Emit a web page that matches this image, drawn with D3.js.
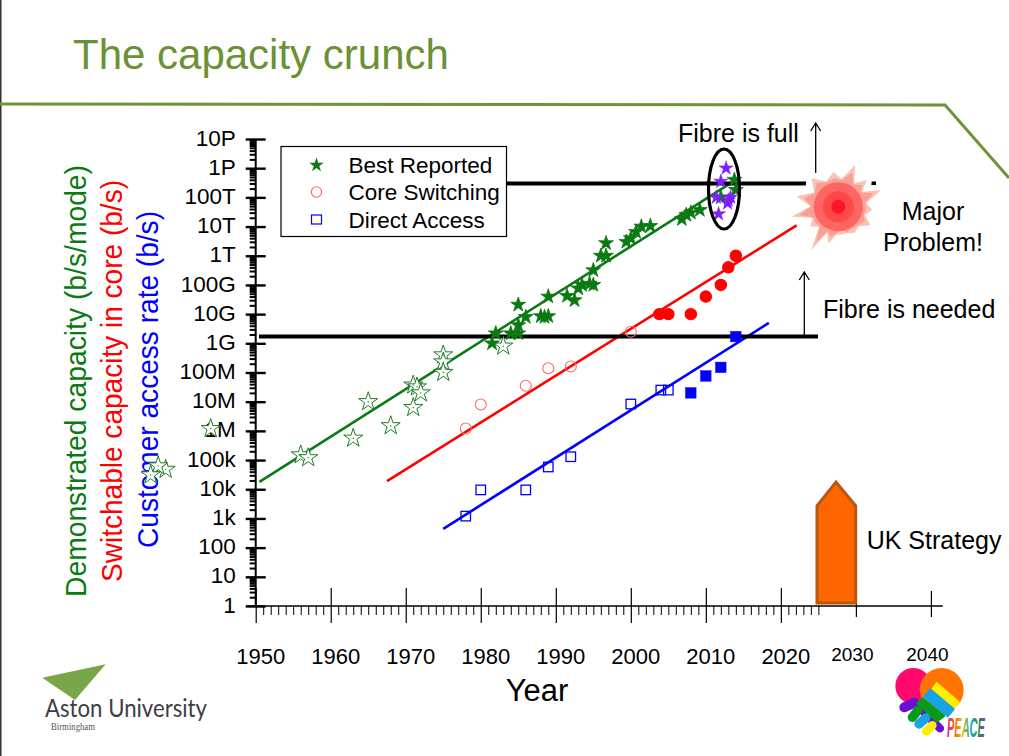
<!DOCTYPE html>
<html>
<head>
<meta charset="utf-8">
<script src="https://cdn.jsdelivr.net/npm/d3@7"></script>
<style>
  html, body { margin: 0; padding: 0; background: #fff; }
  svg { display: block; }
  text { font-family: "Liberation Sans", Arial, sans-serif; fill: #000; }
</style>
</head>
<body>
<div id="chart"></div>
<script>
// chart values
var bestOpenYears = [1956, 1957, 1963, 1965, 1968, 1971, 1971, 1971.5, 1972, 1975, 1975, 1975, 1983, 1944, 1938, 1937, 1936];
var bestOpenRates = [1.5e5, 1.2e5, 5.6e5, 1e7, 1.5e6, 3.7e7, 6.3e6, 3.2e7, 2e7, 4e8, 2.3e8, 1e8, 8e8, 1.2e6, 4.8e4, 6.3e4, 3.1e4];
var bestFullYears = [1981.5, 1982, 1984, 1985, 1985, 1986, 1985, 1989, 1988, 1989, 1988.5, 1991.5, 1992.5, 1993, 1993.5, 1994.5, 1995, 1995, 1996, 1996.7, 1996.7, 1999.4, 2000, 2000.7, 2001.4, 2002.6, 2006.8, 2007.4, 2008, 2009.2, 2012, 2013.8, 2014];
var bestFullRates = [1e9, 2.2e9, 2.2e9, 2.2e9, 4.2e9, 8e9, 2.1e10, 4e10, 8.5e9, 8.5e9, 8e9, 4.2e10, 3e10, 7.6e10, 1e11, 1.1e11, 1e11, 3.2e11, 1e12, 1e12, 2.7e12, 3e12, 4e12, 6.6e12, 1e13, 1.05e13, 1.8e13, 2.5e13, 3e13, 3.7e13, 1e14, 4e14, 1.8e14];
var purpleYears = [2012.7, 2012, 2011.4, 2013, 2013.3, 2012.9, 2011.7];
var purpleRates = [1e15, 3.5e14, 1e14, 8e13, 1e14, 6.3e13, 2.7e13];
var coreOpenYears = [1978, 1980, 1986, 1989, 1992, 2000];
var coreOpenRates = [1.2e6, 8e6, 3.5e7, 1.4e8, 1.6e8, 2.5e9];
var coreFullYears = [2003.8, 2005, 2008, 2010, 2012, 2013, 2014];
var coreFullRates = [1e10, 1e10, 1e10, 4e10, 1e11, 4e11, 1e12];
var accessOpenYears = [1978, 1980, 1986, 1989, 1992, 2000, 2004, 2005];
var accessOpenRates = [1.2e3, 9.5e3, 9.5e3, 5.8e4, 1.3e5, 8.3e6, 2.5e7, 2.5e7];
var accessFullYears = [2008, 2010, 2012, 2014];
var accessFullRates = [2e7, 7.6e7, 1.5e8, 1.7e9];
var bestTrendYears = [1950.5, 2014];
var bestTrendRates = [1.8e4, 4e14];
var coreTrendYears = [1967.5, 2022.1];
var coreTrendRates = [1.9e4, 1.1e13];
var accessTrendYears = [1975, 2018.4];
var accessTrendRates = [4.4e2, 5e9];
var capacityLimit = 3e14;
var neededLevel = 1.7e9;
var yTicks = [1, 10, 100, 1e3, 1e4, 1e5, 1e6, 1e7, 1e8, 1e9, 1e10, 1e11, 1e12, 1e13, 1e14, 1e15, 1e16];
var yLabels = ["1", "10", "100", "1k", "10k", "100k", "1M", "10M", "100M", "1G", "10G", "100G", "1T", "10T", "100T", "1P", "10P"];
var xYears = [1950, 1960, 1970, 1980, 1990, 2000, 2010, 2020];
var xLaterYears = [2030, 2040];
var legendNames = ["Best Reported", "Core Switching", "Direct Access"];
var burstAngles = [22, 47, 69, 95, 120, 148, 173, 195, 212, 235, 258, 284, 317, 352];
var burstReach = [45, 39, 46, 34, 37, 31, 28, 38, 51, 34, 48, 43, 39, 35];

var green = "#0a7a12", red = "#ff0000", blue = "#0000ff";

var svg = d3.select("#chart").append("svg").attr("width", 1009).attr("height", 756);

var x = d3.scaleLinear().domain([1950, 2040]).range([255.7, 930.9]);
var y = d3.scaleLog().domain([1, 1e16]).range([606, 139]);

// slide frame
svg.append("line").attr("x1", 0.5).attr("x2", 0.5).attr("y1", 0).attr("y2", 756).attr("stroke", "#333").attr("stroke-width", 2);
svg.append("path").attr("d", "M0,104 L945,105 L1009,178").attr("fill", "none").attr("stroke", "#6f9337").attr("stroke-width", 3);
svg.append("text").attr("x", 73).attr("y", 69).style("font-size", "42px").style("fill", "#6b9135").text("The capacity crunch");

// rotated axis titles
function sideTitle(label, color, px, pyBottom, len) {
  svg.append("text")
    .attr("transform", "translate(" + px + "," + pyBottom + ") rotate(-90)")
    .attr("textLength", len).attr("lengthAdjust", "spacingAndGlyphs")
    .style("font-size", "30px").style("fill", color).text(label);
}
sideTitle("Demonstrated capacity (b/s/mode)", green, 86, 597, 432);
sideTitle("Switchable capacity in core (b/s)", red, 122, 582, 402);
sideTitle("Customer access rate (b/s)", blue, 158, 548, 337);

// y axis
var yMinor = [];
yTicks.slice(0, -1).forEach(function (d) {
  for (var i = 2; i < 10; i++) yMinor.push(d * i);
});
svg.append("g").attr("transform", "translate(255.7,0)")
  .call(d3.axisLeft(y).tickValues(yMinor).tickSize(6).tickFormat(""))
  .call(function (g) { g.select(".domain").remove(); })
  .selectAll("line").attr("stroke", "#000").attr("stroke-width", 2);

var yAxis = svg.append("g").attr("transform", "translate(255.7,0)")
  .call(d3.axisLeft(y).tickValues(yTicks).tickSize(10).tickPadding(10)
    .tickFormat(function (d, i) { return yLabels[i]; }));
yAxis.select(".domain").remove();
yAxis.selectAll("line").attr("x1", -10).attr("x2", 10).attr("stroke", "#000").attr("stroke-width", 2.4);
yAxis.selectAll("text").style("font-size", "22.5px").style("font-family", "Liberation Sans").attr("dx", 0).attr("dy", "0.27em");
svg.append("line").attr("x1", 255.7).attr("x2", 255.7).attr("y1", y(1e16)).attr("y2", y(1))
  .attr("stroke", "#000").attr("stroke-width", 2);

// x axis
var xMinor = d3.range(1951, 2026).filter(function (d) { return d % 10 !== 0; });
svg.append("g").attr("transform", "translate(0,606)")
  .call(d3.axisBottom(x).tickValues(xMinor).tickSize(9).tickFormat(""))
  .call(function (g) { g.select(".domain").remove(); })
  .selectAll("line").attr("stroke", "#000").attr("stroke-width", 1);

var xAxis = svg.append("g").attr("transform", "translate(0,606)")
  .call(d3.axisBottom(x).tickValues(xYears).tickSize(17).tickPadding(25).tickFormat(d3.format("d")));
xAxis.select(".domain").remove();
xAxis.selectAll("line").attr("y1", -18).attr("stroke", "#000").attr("stroke-width", 1.2);
xAxis.selectAll("text").style("font-size", "22px").style("font-family", "Liberation Sans").attr("dx", 4.5);

var xLater = svg.append("g").attr("transform", "translate(0,606)")
  .call(d3.axisBottom(x).tickValues(xLaterYears).tickSize(11).tickPadding(31).tickFormat(d3.format("d")));
xLater.select(".domain").remove();
xLater.selectAll("line").attr("y1", -15).attr("stroke", "#000").attr("stroke-width", 1.2);
xLater.selectAll("text").style("font-size", "19px").style("font-family", "Liberation Sans").attr("dx", -4);
svg.append("line").attr("x1", 246).attr("x2", 942.7).attr("y1", 606).attr("y2", 606).attr("stroke", "#000").attr("stroke-width", 1.5);

svg.append("text").attr("x", 537).attr("y", 701).attr("text-anchor", "middle").style("font-size", "31px").text("Year");

// trend lines
var trend = d3.line().x(function (d) { return x(d[0]); }).y(function (d) { return y(d[1]); });
function drawTrend(years, rates, color) {
  svg.append("path").datum(d3.zip(years, rates)).attr("d", trend)
    .attr("fill", "none").attr("stroke", color).attr("stroke-width", 2.6);
}
drawTrend(bestTrendYears, bestTrendRates, green);
drawTrend(coreTrendYears, coreTrendRates, red);
drawTrend(accessTrendYears, accessTrendRates, blue);

// horizontal limits
svg.append("line").attr("x1", 504).attr("x2", 876).attr("y1", y(capacityLimit)).attr("y2", y(capacityLimit)).attr("stroke", "#000").attr("stroke-width", 4);
svg.append("line").attr("x1", 259).attr("x2", 818).attr("y1", y(neededLevel)).attr("y2", y(neededLevel)).attr("stroke", "#000").attr("stroke-width", 4);

// marks
var star = d3.symbol().type(d3.symbolStar);
function drawStars(years, rates, size, fill, stroke, sw) {
  svg.append("g").selectAll("path").data(d3.zip(years, rates)).enter().append("path")
    .attr("transform", function (d) { return "translate(" + x(d[0]) + "," + y(d[1]) + ")"; })
    .attr("d", star.size(size)())
    .attr("fill", fill).attr("stroke", stroke).attr("stroke-width", sw);
}
function drawCircles(years, rates, r, fill, stroke) {
  svg.append("g").selectAll("circle").data(d3.zip(years, rates)).enter().append("circle")
    .attr("cx", function (d) { return x(d[0]); })
    .attr("cy", function (d) { return y(d[1]); })
    .attr("r", r).attr("fill", fill).attr("stroke", stroke).attr("stroke-width", 1.1);
}
function drawSquares(years, rates, side, fill, stroke, sw) {
  svg.append("g").selectAll("rect").data(d3.zip(years, rates)).enter().append("rect")
    .attr("x", function (d) { return x(d[0]) - side / 2; })
    .attr("y", function (d) { return y(d[1]) - side / 2; })
    .attr("width", side).attr("height", side)
    .attr("fill", fill).attr("stroke", stroke).attr("stroke-width", sw);
}
drawStars(bestOpenYears, bestOpenRates, 112, "#fff", "#1d7d28", 1);
svg.append("g").selectAll("circle").data(d3.zip(bestOpenYears, bestOpenRates)).enter().append("circle")
  .attr("cx", function (d) { return x(d[0]); }).attr("cy", function (d) { return y(d[1]); })
  .attr("r", 0.7).attr("fill", "#1d7d28");
drawStars(bestFullYears, bestFullRates, 68, green, green, 0.8);
drawStars(purpleYears, purpleRates, 62, "#7f1fff", "#7f1fff", 0.5);
drawCircles(coreOpenYears, coreOpenRates, 5.5, "none", "#f56a6a");
drawCircles(coreFullYears, coreFullRates, 5.7, red, red);
drawSquares(accessOpenYears, accessOpenRates, 9.5, "none", blue, 1.3);
drawSquares(accessFullYears, accessFullRates, 10.5, blue, blue, 0.5);

// ellipse around the limit
svg.append("ellipse").attr("cx", 724).attr("cy", 189).attr("rx", 15.5).attr("ry", 40)
  .attr("fill", "none").attr("stroke", "#000").attr("stroke-width", 3.2);

// legend
svg.append("rect").attr("x", 281).attr("y", 146.5).attr("width", 225.5).attr("height", 90)
  .attr("fill", "#fff").attr("stroke", "#000").attr("stroke-width", 1.2);
var legendY = d3.scalePoint().domain(legendNames).range([165, 220]);
svg.selectAll(".legend-name").data(legendNames).enter().append("text")
  .attr("class", "legend-name")
  .attr("x", 348.5).attr("y", function (d) { return legendY(d) + 7.5; })
  .style("font-size", "22.5px").text(function (d) { return d; });
svg.append("path").attr("transform", "translate(316.5," + legendY(legendNames[0]) + ")")
  .attr("d", d3.symbol().type(d3.symbolStar).size(66)()).attr("fill", green);
svg.append("circle").attr("cx", 316.5).attr("cy", legendY(legendNames[1]) - 0.5).attr("r", 5.2)
  .attr("fill", "none").attr("stroke", "#f56a6a").attr("stroke-width", 1.1);
svg.append("rect").attr("x", 311.5).attr("y", legendY(legendNames[2]) - 5).attr("width", 10).attr("height", 9)
  .attr("fill", "none").attr("stroke", blue).attr("stroke-width", 1.2);

// arrows
function upArrow(px, py1, py2) {
  svg.append("path").attr("fill", "none").attr("stroke", "#000").attr("stroke-width", 1.3)
    .attr("d", "M" + px + "," + py1 + "L" + px + "," + py2 + "M" + (px - 5) + "," + (py2 + 8) + "L" + px + "," + py2 + "L" + (px + 5) + "," + (py2 + 8));
}
upArrow(815.7, 176, 123);
upArrow(804.3, 336, 272);

// explosion
function burstPath(scale, floor) {
  var pts = [];
  burstAngles.forEach(function (a, i) {
    var next = burstAngles[(i + 1) % burstAngles.length];
    var gap = ((next - a + 360) % 360) / 2;
    pts.push([a * Math.PI / 180, burstReach[i] * scale]);
    pts.push([(a + gap) * Math.PI / 180, floor]);
  });
  return d3.lineRadial().curve(d3.curveLinearClosed)(pts);
}
var burst = svg.append("g").attr("transform", "translate(838.3,206.7)");
burst.append("path").attr("d", burstPath(1.02, 33)).attr("fill", "#fff").attr("stroke", "#fff").attr("stroke-width", 9);
burst.append("path").attr("d", burstPath(1, 28)).attr("fill", "#fcc2b4");
burst.append("path").attr("d", burstPath(0.82, 27)).attr("fill", "#fa9f94");
burst.append("circle").attr("r", 24.5).attr("fill", "#ff6464");
burst.append("circle").attr("r", 15.5).attr("fill", "#ff4848");
burst.append("circle").attr("r", 7).attr("fill", "#ff1428");

// strategy arrow
svg.append("path").attr("d", "M817,603 L817,505.7 L836,482 L855.7,505.7 L855.7,603 Z")
  .attr("fill", "#ff6600").attr("stroke", "#b9560f").attr("stroke-width", 3);

// annotations
function note(label, px, py, anchor) {
  svg.append("text").attr("x", px).attr("y", py).attr("text-anchor", anchor || "start")
    .style("font-size", "25px").text(label);
}
note("Fibre is full", 678, 142);
note("Major", 933, 220, "middle");
note("Problem!", 933, 250.5, "middle");
note("Fibre is needed", 823, 318);
note("UK Strategy", 866.7, 549);

// Aston logo
svg.append("path").attr("d", "M42.3,677.7 L105.7,664.3 L75,700 Z").attr("fill", "#7aa64a");
svg.append("text").attr("x", 45).attr("y", 717).attr("textLength", 162).attr("lengthAdjust", "spacingAndGlyphs")
  .style("font-family", "Lato").style("font-size", "25px").style("fill", "#3d3d45").text("Aston University");
svg.append("text").attr("x", 51).attr("y", 730).attr("textLength", 44).attr("lengthAdjust", "spacingAndGlyphs")
  .style("font-family", "Liberation Serif").style("font-size", "10px").style("fill", "#555").text("Birmingham");

// PEACE logo
var peace = svg.append("g").attr("transform", "translate(885,660) scale(0.3333)").attr("stroke-linejoin", "round").attr("stroke-linecap", "round").attr("fill", "none");
peace.append("circle").attr("cx", 85).attr("cy", 78).attr("r", 54).attr("fill", "#ff0a6c");
peace.append("path").attr("d", "M58,142 L88,128").attr("stroke", "#6a10d0").attr("stroke-width", 30);
peace.append("path").attr("d", "M88,128 L165,205").attr("stroke", "#6a10d0").attr("stroke-width", 24);
peace.append("circle").attr("cx", 170).attr("cy", 90).attr("r", 66).attr("fill", "#ff7300");
peace.append("path").attr("d", "M155,68 L222,125 L208,145 L140,88 Z").attr("fill", "#ffee00").attr("stroke", "#ffee00").attr("stroke-width", 4);
peace.append("path").attr("d", "M137,90 L205,148 L188,168 L118,110 Z").attr("fill", "#18a4e0").attr("stroke", "#18a4e0").attr("stroke-width", 8);
peace.append("path").attr("d", "M112,118 L175,168 L155,182 L100,130 Z").attr("fill", "#0a9a1a").attr("stroke", "#0a9a1a").attr("stroke-width", 10);
peace.append("path").attr("d", "M82,172 L98,152").attr("stroke", "#0a9a1a").attr("stroke-width", 28);
peace.append("path").attr("d", "M102,192 L122,174").attr("stroke", "#18a4e0").attr("stroke-width", 28);
peace.append("path").attr("d", "M124,214 L142,196").attr("stroke", "#ffee00").attr("stroke-width", 26);
var peaceGrad = svg.append("defs").append("linearGradient").attr("id", "peace-fill");
["#d0208a", "#f06a10", "#e8c000", "#1f9fd8", "#18a040", "#9a2fc0"].forEach(function (c, i) {
  peaceGrad.append("stop").attr("offset", i / 5).attr("stop-color", c);
});
svg.append("text").attr("transform", "translate(947,736.5) scale(1,2.5)")
  .style("font-size", "11px").style("font-weight", "bold").style("font-style", "italic")
  .style("fill", "url(#peace-fill)").text("PEACE");
</script>
</body>
</html>
